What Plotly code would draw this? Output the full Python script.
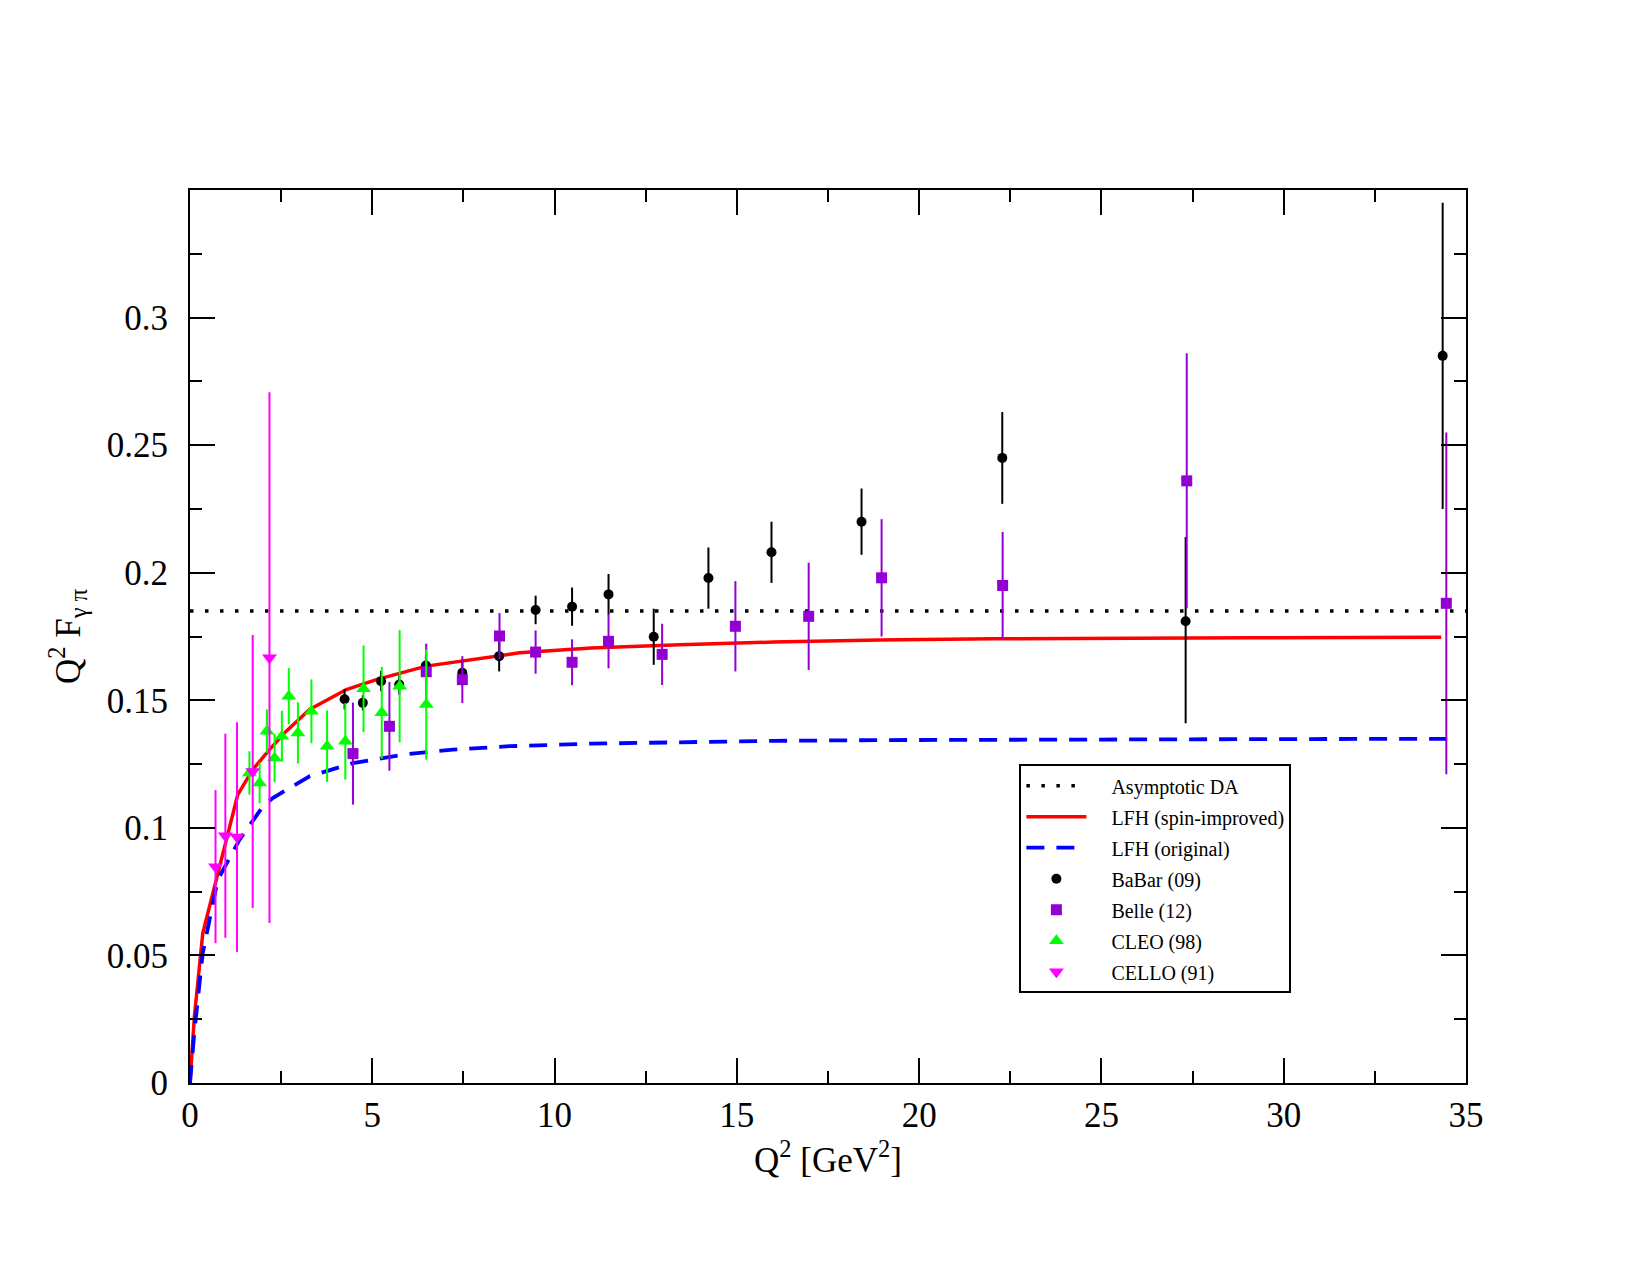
import plotly.graph_objects as go

# ---------------- data ----------------
asym_x = [0, 35]
asym_y = [0.185, 0.185]

red_x = [0, 0.12, 0.35, 0.76, 1.04, 1.31, 1.72, 2.18, 2.64, 3.28, 4.29, 5.11, 6.48, 7.94,
         9.04, 11.0, 13.43, 16.0, 18.9, 22.0, 25.5, 29.07, 34.32]
red_y = [0, 0.026, 0.0587, 0.0822, 0.098, 0.113, 0.1228, 0.1307, 0.1379, 0.1464, 0.1542,
         0.1581, 0.1634, 0.1663, 0.1686, 0.1705, 0.1718, 0.1728, 0.1736, 0.1741, 0.1744,
         0.1745, 0.1747]

blue_x = [0, 0.12, 0.35, 0.76, 1.36, 2.0, 2.27, 3.28, 4.47, 5.84, 7.21, 8.77, 11.0, 13.5,
          16.0, 18.9, 22.0, 26.0, 30.0, 34.8]
blue_y = [0, 0.02, 0.051, 0.0796, 0.0954, 0.1084, 0.1117, 0.1202, 0.1254, 0.1287, 0.1307,
          0.132, 0.133, 0.1337, 0.1341, 0.1344, 0.1346, 0.1347, 0.1348, 0.1349]

babar_x = [4.24, 4.74, 5.24, 5.74, 6.47, 7.47, 8.48, 9.48, 10.48, 11.48, 12.72, 14.22,
           15.95, 18.42, 22.28, 27.31, 34.36]
babar_y = [0.1504, 0.1490, 0.1575, 0.1562, 0.1636, 0.1608, 0.1673, 0.1854, 0.1867, 0.1915,
           0.1749, 0.1979, 0.2080, 0.2200, 0.2450, 0.1810, 0.2850]
babar_ep = [0.004, 0.003, 0.004, 0.004, 0.004, 0.005, 0.006, 0.0056, 0.0075, 0.008, 0.011,
            0.012, 0.012, 0.013, 0.018, 0.033, 0.060]
babar_em = [0.004, 0.003, 0.004, 0.004, 0.004, 0.005, 0.006, 0.0056, 0.0075, 0.008, 0.011,
            0.012, 0.012, 0.013, 0.018, 0.040, 0.060]

belle_x = [4.47, 5.47, 6.48, 7.47, 8.49, 9.48, 10.48, 11.48, 12.95, 14.96, 16.97, 18.97,
           22.29, 27.34, 34.46]
belle_y = [0.1291, 0.1398, 0.1612, 0.1581, 0.1752, 0.1689, 0.1649, 0.1731, 0.1680, 0.1790,
           0.1829, 0.1980, 0.1950, 0.2360, 0.1880]
belle_e = [0.020, 0.0174, 0.011, 0.0092, 0.009, 0.0085, 0.009, 0.0106, 0.012, 0.0177, 0.021,
           0.023, 0.021, 0.050, 0.067]

cleo_x = [1.63, 1.91, 2.11, 2.32, 2.52, 2.71, 2.96, 3.33, 3.76, 4.26, 4.76, 5.26, 5.75, 6.48]
cleo_y = [0.1215, 0.1176, 0.1379, 0.1274, 0.1359, 0.1516, 0.1372, 0.1457, 0.1320, 0.1339,
          0.1545, 0.1451, 0.1555, 0.1483]
cleo_e = [0.0085, 0.008, 0.0085, 0.0095, 0.010, 0.011, 0.012, 0.0125, 0.014, 0.015, 0.017,
          0.018, 0.022, 0.0216]

cello_x = [0.70, 0.97, 1.29, 1.72, 2.18]
cello_y = [0.0848, 0.0969, 0.0964, 0.1221, 0.1667]
cello_e = [0.030, 0.040, 0.045, 0.0535, 0.104]

x_ticks = [0, 5, 10, 15, 20, 25, 30, 35]
y_ticks = [0, 0.05, 0.1, 0.15, 0.2, 0.25, 0.3]
y_ticklabels = ["0", "0.05", "0.1", "0.15", "0.2", "0.25", "0.3"]

FONT = "Liberation Serif"
PAD = "\u00a0" * 4  # gap between legend symbol and text

fig = go.Figure()

fig.add_trace(go.Scatter(x=asym_x, y=asym_y, mode="lines", name=PAD + "Asymptotic DA",
                         legendgroup="a",
                         line=dict(color="black", width=3.5, dash="3.5px,11.5px")))
fig.add_trace(go.Scatter(x=red_x, y=red_y, mode="lines", name=PAD + "LFH (spin-improved)",
                         legendgroup="b",
                         line=dict(color="#ff0000", width=3.5)))
fig.add_trace(go.Scatter(x=blue_x, y=blue_y, mode="lines", name=PAD + "LFH (original)",
                         legendgroup="c",
                         line=dict(color="#0000ff", width=3.8, dash="18px,12px")))

def data_trace(x, y, ep, em, name, color, symbol, size, grp):
    return go.Scatter(
        x=x, y=y, mode="markers", name=PAD + name, legendgroup=grp,
        marker=dict(color=color, symbol=symbol, size=size, line=dict(width=0)),
        error_y=dict(type="data", array=ep, arrayminus=em, symmetric=False,
                     color=color, thickness=2, width=0),
    )

fig.add_trace(data_trace(babar_x, babar_y, babar_ep, babar_em, "BaBar (09)", "black",
                         "circle", 10, "d"))
fig.add_trace(data_trace(belle_x, belle_y, belle_e, belle_e, "Belle (12)", "#9400d3",
                         "square", 11, "e"))
fig.add_trace(data_trace(cleo_x, cleo_y, cleo_e, cleo_e, "CLEO (98)", "#00ff00",
                         "triangle-up", 13, "f"))
fig.add_trace(data_trace(cello_x, cello_y, cello_e, cello_e, "CELLO (91)", "#ff00ff",
                         "triangle-down", 13, "g"))

axis_common = dict(
    showline=True, linecolor="black", linewidth=2, mirror="ticks",
    ticks="inside", ticklen=25, tickwidth=2, tickcolor="black",
    showgrid=False, zeroline=False,
    tickfont=dict(family=FONT, size=35, color="black"),
)

fig.update_xaxes(
    range=[0, 35], tickvals=x_ticks,
    minor=dict(dtick=2.5, ticks="inside", ticklen=12, tickwidth=2, tickcolor="black",
               showgrid=False),
    title=dict(text="Q<sup>2</sup> [GeV<sup>2</sup>]",
               font=dict(family=FONT, size=35, color="black"), standoff=4),
    ticklabelstandoff=0,
    **axis_common,
)
fig.update_yaxes(
    range=[0, 0.35], tickvals=y_ticks, ticktext=y_ticklabels,
    minor=dict(dtick=0.025, ticks="inside", ticklen=12, tickwidth=2, tickcolor="black",
               showgrid=False),
    title=dict(text="Q<sup>2</sup> F<sub>γ π</sub>",
               font=dict(family=FONT, size=35, color="black"), standoff=16),
    ticklabelstandoff=13,
    **axis_common,
)

fig.update_layout(
    width=1650, height=1275,
    margin=dict(l=190, r=184, t=190, b=192),
    paper_bgcolor="white", plot_bgcolor="white",
    font=dict(family=FONT, color="black"),
    showlegend=True,
    legend=dict(
        x=0.650, y=0.357, xanchor="left", yanchor="top",
        bgcolor="white", bordercolor="black", borderwidth=2,
        font=dict(family=FONT, size=20, color="black"),
        traceorder="grouped", tracegroupgap=2, itemwidth=60,
    ),
)

fig.write_html("out.html")
